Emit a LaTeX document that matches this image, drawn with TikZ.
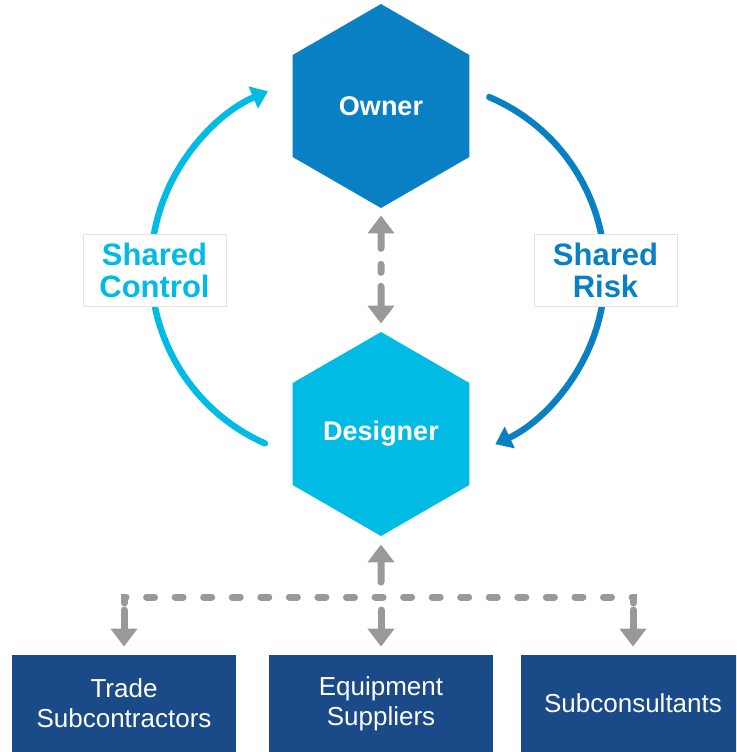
\documentclass[tikz,border=0pt]{standalone}
\usepackage{fontspec}
\setmainfont{Liberation Sans}
\usetikzlibrary{shapes.geometric,arrows.meta}

\definecolor{ownerblue}{HTML}{0A80C4}
\definecolor{designcyan}{HTML}{00BCE5}
\definecolor{unitblue}{HTML}{1B4A89}
\definecolor{linkgray}{HTML}{999999}
\definecolor{tagedge}{HTML}{E3E3E3}

\tikzset{
    hexnode/.style={regular polygon, regular polygon sides=6, shape border rotate=30,
        minimum size=102pt, inner sep=0pt, text=white, font=\fontsize{13.5}{15}\selectfont\bfseries},
    unitbox/.style={rectangle, fill=unitblue, text=white, minimum width=112pt, minimum height=48.5pt,
        align=center, font=\fontsize{13}{15}\selectfont},
    tagbox/.style={rectangle, fill=white, draw=tagedge, line width=0.5pt, minimum width=71.5pt,
        minimum height=36pt, align=center, font=\fontsize{15.5}{16}\selectfont\bfseries},
    grayline/.style={draw=linkgray, line width=3.5pt, line cap=round},
    graytip/.style={grayline, -{Triangle[length=9pt,width=13pt]}, shorten >=4pt},
    flowarc/.style={line width=3.2pt, line cap=round, -{Triangle[length=8pt,width=11.5pt]}}
}

\begin{document}
\begin{tikzpicture}[x=0.5pt, y=-0.5pt]
    \path[use as bounding box, clip] (0,0) rectangle (736,752);

    % the two parties
    \node[hexnode, fill=ownerblue] (owner) at (381,106) {Owner};
    \node[hexnode, fill=designcyan] (designer) at (381,434) {Designer};

    % shared control / shared risk loop
    \coordinate (ctlmid) at (343,268);
    \coordinate (riskmid) at (415,272);
    \draw[flowarc, designcyan] (ctlmid) ++(114:192) arc[start angle=114, end angle=247, radius=192];
    \draw[flowarc, ownerblue] (riskmid) ++(-67:190) arc[start angle=-67, end angle=65, radius=190];

    \node[tagbox, text=designcyan] (ctltag) at (154.5,270) {Shared\\Control};
    \node[tagbox, text=ownerblue] (risktag) at (605.5,270) {Shared\\Risk};

    \draw[grayline, {Triangle[length=9pt,width=13pt]}-{Triangle[length=9pt,width=13pt]},
        dash pattern=on 8pt off 8pt on 4pt off 7pt on 20pt,
        shorten <=3.5pt, shorten >=4pt] (owner.south) -- (designer.north);

    % units under the designer
    \node[unitbox] (trade) at (124,703.5) {Trade\\Subcontractors};
    \node[unitbox] (equip) at (381,703.5) {Equipment\\Suppliers};
    \node[unitbox] (subcon) at (633,703.5) {Subconsultants};

    \coordinate (hub) at (381,597);
    \draw[grayline, dash pattern=on 4pt off 10.28pt]
        (trade.north |- hub) ++(0,6) -- (trade.north |- hub) -- (subcon.north |- hub) -- ++(0,6);
    \draw[graytip, shorten <=7.5pt] (hub) -- (designer.south);
    \draw[graytip, shorten <=6.5pt] (trade.north |- hub) -- (trade.north);
    \draw[graytip, shorten <=6.5pt] (hub) -- (equip.north);
    \draw[graytip, shorten <=6.5pt] (subcon.north |- hub) -- (subcon.north);
\end{tikzpicture}
\end{document}
